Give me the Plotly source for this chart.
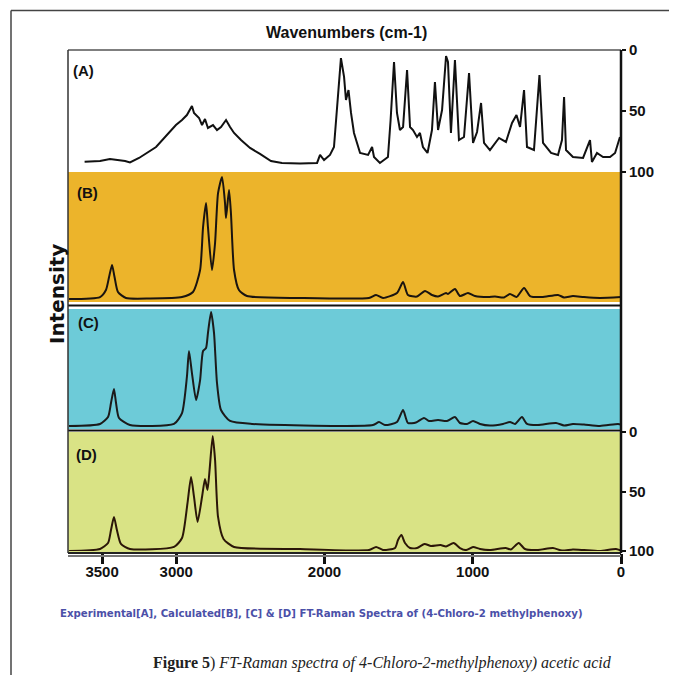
import plotly.graph_objects as go

# ---------------- data (wavenumber cm-1, value on each panel's own scale) ----------------
wn_A = [3618, 3514, 3447, 3345, 3312, 3251, 3136, 3049, 3002, 2961, 2928, 2894, 2880, 2846,
        2826, 2806, 2786, 2752, 2725, 2698, 2664, 2637, 2610, 2563, 2502, 2435, 2361, 2287,
        2165, 2050, 2030, 2003, 1963, 1936, 1909, 1889, 1868, 1855, 1838, 1821, 1801, 1760,
        1706, 1679, 1666, 1626, 1572, 1554, 1531, 1511, 1491, 1470, 1443, 1423, 1403, 1376,
        1356, 1336, 1305, 1275, 1255, 1234, 1207, 1180, 1167, 1147, 1120, 1093, 1059, 1025,
        998, 971, 944, 924, 884, 823, 776, 735, 705, 681, 654, 634, 587, 550, 526, 472, 425,
        398, 384, 371, 324, 256, 209, 196, 162, 121, 74, 40, 7]
val_A = [91.6, 91.0, 89.3, 91.0, 92.2, 88.5, 79.5, 68.0, 61.5, 57.4, 53.3, 45.9, 51.6, 55.7,
         61.5, 56.6, 63.9, 61.5, 65.6, 63.1, 57.4, 63.1, 68.0, 73.8, 80.3, 85.2, 91.0, 92.6,
         93.0, 92.6, 86.0, 90.2, 86.0, 79.5, 41.0, 6.6, 22.1, 41.0, 32.8, 51.6, 68.0, 84.4,
         86.0, 79.5, 87.7, 92.6, 87.7, 57.4, 9.8, 51.6, 65.6, 63.1, 16.4, 63.1, 65.6, 71.3,
         68.0, 79.5, 84.4, 65.6, 26.2, 65.6, 49.2, 4.9, 9.8, 68.0, 8.2, 73.8, 71.3, 18.9,
         76.2, 67.2, 43.4, 76.2, 82.0, 72.1, 75.4, 59.8, 53.3, 63.1, 32.8, 79.5, 82.0, 20.5,
         76.2, 84.4, 86.0, 73.8, 38.5, 82.0, 87.7, 88.5, 73.8, 91.8, 84.4, 87.7, 87.7, 84.4,
         71.3]

wn_B = [3723, 3514, 3474, 3453, 3433, 3416, 3393, 3339, 3177, 2961, 2887, 2839, 2819, 2799,
        2786, 2759, 2738, 2718, 2691, 2671, 2664, 2644, 2631, 2610, 2577, 2523, 2165, 1700,
        1652, 1605, 1511, 1470, 1437, 1376, 1322, 1275, 1234, 1180, 1167, 1120, 1086, 1032,
        985, 897, 850, 789, 749, 705, 654, 614, 533, 425, 384, 324, 250, 142, 0]
val_B = [2.3, 3.8, 9.2, 19.2, 28.5, 19.2, 7.7, 3.1, 2.7, 3.8, 7.7, 24.6, 57.7, 76.2,
         57.7, 24.6, 45.4, 83.8, 96.2, 76.2, 64.6, 86.2, 68.5, 24.6, 9.2, 4.6, 3.1, 3.1,
         5.4, 3.1, 6.9, 15.4, 5.4, 4.2, 8.5, 5.4, 4.2, 6.9, 6.2, 10.0, 4.6, 6.9,
         4.6, 3.8, 4.2, 3.5, 6.2, 3.8, 10.8, 4.6, 3.8, 5.4, 3.5, 4.6, 3.8, 3.1, 3.8]

wn_C = [3723, 3514, 3460, 3440, 3420, 3406, 3386, 3312, 3015, 2961, 2928, 2914, 2894, 2866,
        2839, 2819, 2799, 2786, 2765, 2745, 2725, 2698, 2637, 2489, 1673, 1632, 1592, 1511,
        1470, 1437, 1383, 1329, 1295, 1234, 1174, 1120, 1086, 1039, 998, 951, 884, 796, 749,
        715, 668, 634, 560, 438, 384, 324, 250, 142, 20, 0]
val_C = [1.7, 3.4, 9.2, 21.0, 32.8, 21.0, 8.4, 2.5, 3.4, 12.6, 42.9, 64.7, 46.2, 23.5,
         40.3, 64.7, 67.2, 79.8, 97.5, 79.8, 37.8, 15.1, 5.9, 3.4, 2.5, 5.0, 2.5, 5.0,
         15.1, 4.2, 4.6, 8.4, 5.9, 6.7, 5.9, 9.2, 4.2, 3.4, 5.9, 3.4, 2.1, 3.4, 5.0,
         3.4, 9.2, 3.4, 2.5, 4.2, 2.1, 3.4, 2.9, 1.7, 3.4, 2.9]

wn_D = [3723, 3514, 3460, 3440, 3420, 3400, 3373, 3312, 3015, 2961, 2924, 2900, 2880, 2856,
        2826, 2806, 2789, 2775, 2754, 2738, 2718, 2681, 2610, 2165, 1700, 1652, 1605, 1524,
        1504, 1481, 1457, 1423, 1376, 1325, 1282, 1217, 1180, 1129, 1086, 1045, 998, 951,
        884, 778, 742, 690, 648, 560, 459, 398, 324, 250, 142, 34, 0]
val_D = [100.0, 98.3, 93.3, 82.4, 71.4, 82.4, 94.1, 98.3, 96.6, 89.1, 59.7, 37.8, 54.6, 75.6,
         54.6, 39.5, 48.7, 31.9, 3.4, 23.5, 71.4, 89.9, 96.6, 98.3, 99.2, 96.6, 99.2, 97.5,
         90.8, 86.6, 93.3, 97.5, 97.5, 94.1, 95.8, 95.0, 96.2, 93.3, 97.5, 99.2, 96.6, 98.3,
         99.2, 97.5, 98.7, 93.3, 98.3, 99.2, 97.5, 99.6, 98.7, 99.2, 100.0, 98.3, 99.6]

x_ticks = [3500, 3000, 2000, 1000, 0]
y_ticks = [0, 50, 100]
panel_labels = ["(A)", "(B)", "(C)", "(D)"]

title_text = "Wavenumbers (cm-1)"
ylabel_text = "Intensity"
caption_1 = "Experimental[A], Calculated[B], [C] & [D] FT-Raman Spectra of (4-Chloro-2 methylphenoxy)"
caption_2 = "<b>Figure 5</b>) <i>FT-Raman spectra of 4-Chloro-2-methylphenoxy) acetic acid</i>"

# ---------------- figure geometry (page has an 8px body margin) ----------------
OFF = 8
W, H = 677 - OFF, 675 - OFF
PL, PR, PT, PB = 68, 621, 50, 553          # plot area in page pixels
ML, MR, MT, MB = PL - OFF, W - (PR - OFF), PT - OFF, H - (PB - OFF)
PH = PB - PT
PW = PR - PL


def fy(py):
    return (PB - py) / PH


def fx(px):
    return (px - PL) / PW


SANS = "Liberation Sans, Arial, Helvetica, sans-serif"
fig = go.Figure()

common = dict(mode="lines", showlegend=False, hoverinfo="skip")
fig.add_trace(go.Scatter(x=wn_A, y=val_A, xaxis="x", yaxis="y",
                         line=dict(color="#111111", width=2), **common))
fig.add_trace(go.Scatter(x=wn_B, y=val_B, xaxis="x", yaxis="y2",
                         line=dict(color="#1a1410", width=2, shape="spline", smoothing=0.6), **common))
fig.add_trace(go.Scatter(x=wn_C, y=val_C, xaxis="x", yaxis="y3",
                         line=dict(color="#1c1a1a", width=2, shape="spline", smoothing=0.6), **common))
fig.add_trace(go.Scatter(x=wn_D, y=val_D, xaxis="x", yaxis="y4",
                         line=dict(color="#2b1608", width=2, shape="spline", smoothing=0.6), **common))

tickfont = dict(family=SANS, size=15, color="#111111", weight="bold")

dom_A = [fy(172), 1.0]
dom_B = [fy(302), fy(172)]
dom_C = [fy(428), fy(309)]
dom_D = [fy(551), fy(432)]

fig.update_layout(
    width=W, height=H,
    margin=dict(l=ML, r=MR, t=MT, b=MB, pad=0),
    paper_bgcolor="white", plot_bgcolor="white",
    xaxis=dict(range=[3730, 0], domain=[0, 1], anchor="free", position=0,
               showline=True, linecolor="#222222", linewidth=1.5,
               ticks="outside", ticklen=10, tickwidth=3, tickcolor="#111111",
               tickvals=x_ticks, ticktext=[str(v) for v in x_ticks],
               ticklabelstandoff=-5,
               tickfont=tickfont, showgrid=False, zeroline=False),
    yaxis=dict(domain=dom_A, range=[100, 0], side="right", anchor="x",
               tickvals=y_ticks, ticktext=[str(v) for v in y_ticks],
               ticks="outside", ticklen=4, tickwidth=2, tickcolor="#111111",
               tickfont=tickfont, showgrid=False, zeroline=False, showline=False),
    yaxis2=dict(domain=dom_B, range=[0, 100], anchor="x", side="right",
                showticklabels=False, ticks="", showgrid=False, zeroline=False),
    yaxis3=dict(domain=dom_C, range=[0, 100], anchor="x", side="right",
                showticklabels=False, ticks="", showgrid=False, zeroline=False),
    yaxis4=dict(domain=dom_D, range=[100, 0], side="right", anchor="x",
                tickvals=y_ticks, ticktext=[str(v) for v in y_ticks],
                ticks="outside", ticklen=4, tickwidth=2, tickcolor="#111111",
                tickfont=tickfont, showgrid=False, zeroline=False, showline=False),
)

shapes = []
# panel backgrounds
shapes.append(dict(type="rect", xref="paper", yref="paper", x0=0, x1=1,
                   y0=dom_B[0], y1=dom_B[1], fillcolor="#ECB42B", line=dict(width=0), layer="below"))
shapes.append(dict(type="rect", xref="paper", yref="paper", x0=0, x1=1,
                   y0=fy(429), y1=fy(309), fillcolor="#6DCBD8", line=dict(width=0), layer="below"))
shapes.append(dict(type="rect", xref="paper", yref="paper", x0=0, x1=1,
                   y0=fy(553), y1=fy(432), fillcolor="#D9E385", line=dict(width=0), layer="below"))
# separator lines
shapes.append(dict(type="line", xref="paper", yref="paper", x0=0, x1=1, y0=fy(305.5), y1=fy(305.5),
                   line=dict(color="#111111", width=2)))
shapes.append(dict(type="line", xref="paper", yref="paper", x0=0, x1=1, y0=fy(430.5), y1=fy(430.5),
                   line=dict(color="#111111", width=2)))
# A top border and left border
shapes.append(dict(type="line", xref="paper", yref="paper", x0=0, x1=1, y0=1, y1=1,
                   line=dict(color="#555555", width=1.5)))
shapes.append(dict(type="line", xref="paper", yref="paper", x0=0, x1=0, y0=0, y1=1,
                   line=dict(color="#333333", width=1.5)))
# right thick axis line
shapes.append(dict(type="line", xref="paper", yref="paper", x0=1, x1=1, y0=0, y1=1,
                   line=dict(color="#111111", width=2.5)))
# gray second bottom line
shapes.append(dict(type="line", xref="paper", yref="paper", x0=0, x1=1, y0=fy(556), y1=fy(556),
                   line=dict(color="#777777", width=2)))
# outer frame (top and left visible)
shapes.append(dict(type="line", xref="paper", yref="paper", x0=fx(11), x1=fx(690), y0=fy(10.5), y1=fy(10.5),
                   line=dict(color="#444444", width=1.5)))
shapes.append(dict(type="line", xref="paper", yref="paper", x0=fx(11), x1=fx(11), y0=fy(10.5), y1=fy(690),
                   line=dict(color="#444444", width=1.5)))
fig.update_layout(shapes=shapes)

ann = []
ann.append(dict(text=title_text, xref="paper", yref="paper", x=fx(346), y=fy(33),
                xanchor="center", yanchor="middle", showarrow=False,
                font=dict(family=SANS, size=16, color="#111111", weight="bold")))
ann.append(dict(text=ylabel_text, xref="paper", yref="paper", x=fx(57), y=fy(294),
                xanchor="center", yanchor="middle", showarrow=False, textangle=-90,
                font=dict(family="DejaVu Sans, sans-serif", size=20, color="#111111", weight="bold")))
label_pos = [(71, 71), (75, 193), (76, 322), (74, 454)]
for lab, (px, py) in zip(panel_labels, label_pos):
    ann.append(dict(text=lab, xref="paper", yref="paper", x=fx(px), y=fy(py),
                    xanchor="left", yanchor="middle", showarrow=False,
                    font=dict(family=SANS, size=15, color="#111111", weight="bold")))
ann.append(dict(text=caption_1, xref="paper", yref="paper", x=fx(321), y=fy(613),
                xanchor="center", yanchor="middle", showarrow=False,
                font=dict(family="Liberation Sans Narrow, Arial Narrow, DejaVu Sans Condensed, Liberation Sans, sans-serif",
                          size=11.3, color="#4B50A8", weight="bold")))
ann.append(dict(text=caption_2, xref="paper", yref="paper", x=fx(382), y=fy(663),
                xanchor="center", yanchor="middle", showarrow=False,
                font=dict(family="Liberation Serif, Times New Roman, serif", size=16, color="#222222")))
fig.update_layout(annotations=ann)

fig.write_html("out.html")
